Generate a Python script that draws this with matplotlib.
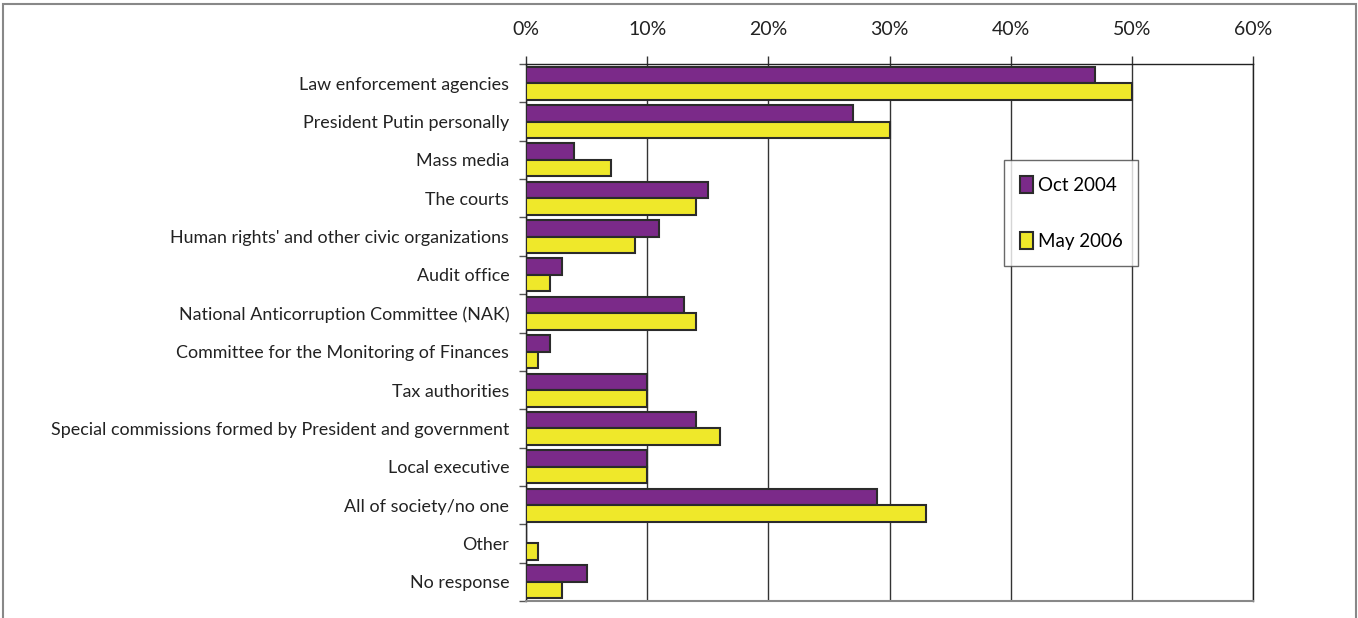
import numpy as np
import matplotlib
matplotlib.use("Agg")
from matplotlib import pyplot as plt
from matplotlib.patches import Rectangle

# === DATA ===
categories = [
    "Law enforcement agencies",
    "President Putin personally",
    "Mass media",
    "The courts",
    "Human rights' and other civic organizations",
    "Audit office",
    "National Anticorruption Committee (NAK)",
    "Committee for the Monitoring of Finances",
    "Tax authorities",
    "Special commissions formed by President and government",
    "Local executive",
    "All of society/no one",
    "Other",
    "No response",
]
oct_2004 = [47, 27, 4, 15, 11, 3, 13, 2, 10, 14, 10, 29, 0, 5]
may_2006 = [50, 30, 7, 14, 9, 2, 14, 1, 10, 16, 10, 33, 1, 3]
series_names = ["Oct 2004", "May 2006"]
x_ticks = [0, 10, 20, 30, 40, 50, 60]

# === STYLE ===
plt.rcParams['font.family'] = ['Lato', 'DejaVu Sans']
purple = "#7b2a89"
yellow = "#efe82a"
edge = "#2b2b2b"

fig = plt.figure(figsize=(13.58, 6.18), dpi=100)
ax = fig.add_axes([526 / 1358, 1 - 601 / 618, (1253 - 526) / 1358, (601 - 64) / 618])

y = np.arange(len(categories))
h = 0.43
ax.barh(y - h / 2, oct_2004, height=h, color=purple, edgecolor=edge, linewidth=1.5,
        label=series_names[0], zorder=3)
ax.barh(y + h / 2, may_2006, height=h, color=yellow, edgecolor=edge, linewidth=1.5,
        label=series_names[1], zorder=3)

ax.set_xlim(0, 60)
ax.set_ylim(len(categories) - 0.5, -0.5)

# x axis on top
ax.xaxis.tick_top()
ax.set_xticks(x_ticks)
ax.set_xticklabels([f"{v}%" for v in x_ticks])
ax.tick_params(axis="x", which="major", length=6, width=1, color="#333333",
               pad=13, labelsize=14, labelcolor="#222222")
ax.grid(axis="x", color="#333333", linewidth=1, zorder=0)

# y labels centred, tick marks at category boundaries
ax.set_yticks(y)
ax.set_yticklabels(categories)
ax.set_yticks(np.arange(len(categories) + 1) - 0.5, minor=True)
ax.tick_params(axis="y", which="major", length=0, pad=12, labelsize=12.9,
               labelcolor="#222222")
ax.tick_params(axis="y", which="minor", length=5, width=1, color="#555555")

for s in ["top", "left", "right"]:
    ax.spines[s].set_color("#222222")
    ax.spines[s].set_linewidth(1)
ax.spines["bottom"].set_color("#888888")
ax.spines["bottom"].set_linewidth(1.5)

leg = ax.legend(loc="upper left", bbox_to_anchor=((1004 - 526) / 727, 1 - (160 - 64) / 537),
                frameon=True, fancybox=False, edgecolor="#444444", fontsize=13.5,
                handlelength=0.7, handleheight=1.0, handletextpad=0.25,
                labelspacing=2.05, borderpad=0.85, borderaxespad=0)
leg.get_frame().set_linewidth(1)

# outer frame of the picture
fig.patches.append(Rectangle((3 / 1358, -0.05), (1356 - 3) / 1358, 1.05 - 4 / 618,
                             transform=fig.transFigure, fill=False,
                             edgecolor="#888888", linewidth=1.5))

fig.savefig("out.png", dpi=100)
